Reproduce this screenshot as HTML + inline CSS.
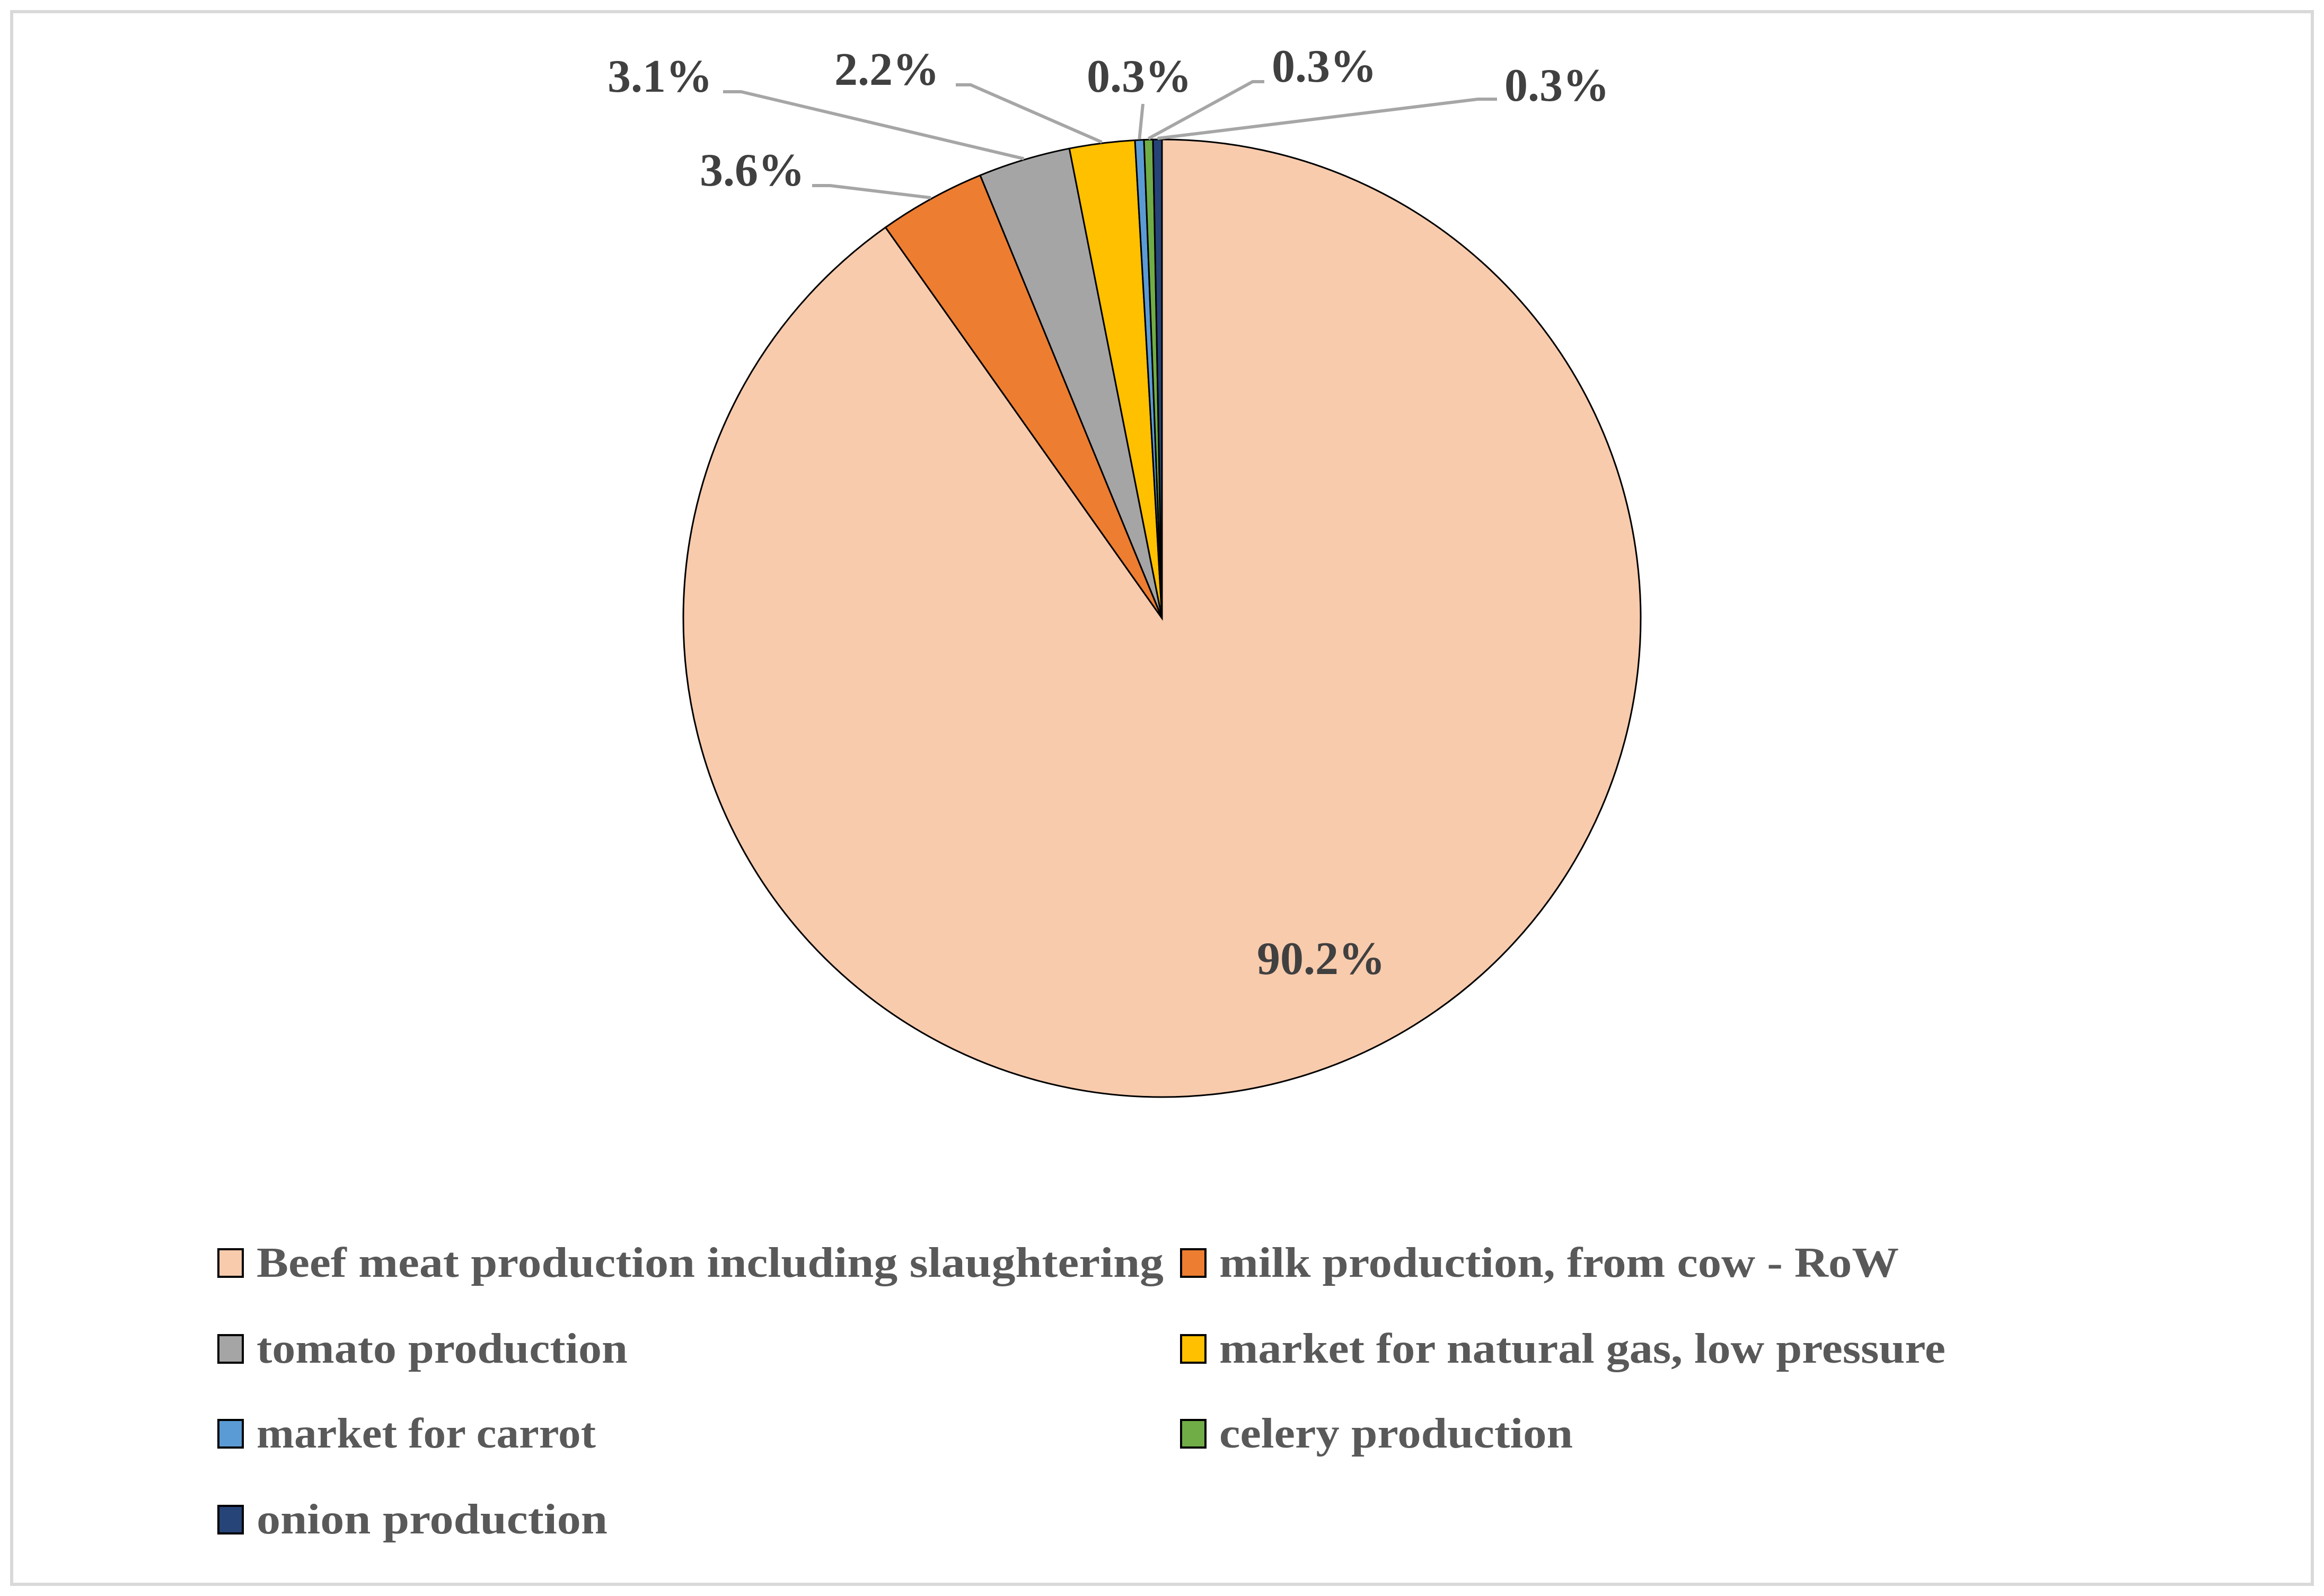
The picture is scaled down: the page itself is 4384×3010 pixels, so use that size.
<!DOCTYPE html>
<html><head><meta charset="utf-8"><style>
html,body{margin:0;padding:0;background:#fff;}
svg{display:block;}
text{font-family:"Liberation Serif",serif;font-weight:bold;}
</style></head><body>
<svg id="chart" width="4384" height="3010" viewBox="0 0 4384 3010" xmlns="http://www.w3.org/2000/svg">
<rect x="22" y="22" width="4340" height="2966" fill="#fff" stroke="#d9d9d9" stroke-width="6"/>
<g id="slices"></g>
<g id="leaders"></g>
<g id="labels"></g>
<g id="legend"></g>
</svg>
<script>
const categories = ["Beef meat production including slaughtering","milk production, from cow - RoW","tomato production","market for natural gas, low pressure","market for carrot","celery production","onion production"];
const values = [90.2,3.6,3.1,2.2,0.3,0.3,0.3];
const valueLabels = ["90.2%","3.6%","3.1%","2.2%","0.3%","0.3%","0.3%"];
const colors = ["#f8cbad","#ed7d31","#a5a5a5","#ffc000","#5b9bd5","#70ad47","#264478"];

const NS="http://www.w3.org/2000/svg";
const cx=2192, cy=1166, r=903;
const total=values.reduce((a,b)=>a+b,0);
function pt(a,rr){return [cx+rr*Math.sin(a), cy-rr*Math.cos(a)];}
function mk(tag,attrs,parent){const e=document.createElementNS(NS,tag);for(const k in attrs)e.setAttribute(k,attrs[k]);parent.appendChild(e);return e;}
const gS=document.getElementById('slices'), gL=document.getElementById('labels'), gD=document.getElementById('leaders'), gG=document.getElementById('legend');
let acc=0;
const mids=[];
values.forEach((v,i)=>{
  const a0=acc/total*2*Math.PI; acc+=v; const a1=acc/total*2*Math.PI;
  mids.push((a0+a1)/2);
  const p0=pt(a0,r), p1=pt(a1,r);
  const large=(a1-a0)>Math.PI?1:0;
  const p=mk('path',{d:`M${cx},${cy} L${p0[0]},${p0[1]} A${r},${r} 0 ${large} 1 ${p1[0]},${p1[1]} Z`,fill:colors[i],stroke:'#000','stroke-width':3},gS);
  
  
});
// label positions (layout, not data)
const labelPos=[[2371,1837,null],[1320,350,[1532,350,1566,350]],[1146,173,[1364,173,1398,173]],[1574,160,[1803,160,1831,160]],[2050,173,[2156,196,2156,196]],[2399,154,[2385,154,2363,154]],[2838,190,[2824,187,2788,187]]];
valueLabels.forEach((t,i)=>{
  const lp=labelPos[i];
  const tx=mk('text',{x:lp[0],y:lp[1],'font-size':88,fill:'#404040'},gL);
  tx.textContent=t;
  
  
  if(lp[2]){
    const e=pt(mids[i],r+2);
    const l=mk('polyline',{points:`${lp[2][0]},${lp[2][1]} ${lp[2][2]},${lp[2][3]} ${e[0]},${e[1]}`,fill:'none',stroke:'#a6a6a6','stroke-width':6},gD);
    
    
  }
});
const legPos=[[412,2382],[2228,2382],[412,2544],[2228,2544],[412,2704],[2228,2704],[412,2866]];
const legW=[1711,1282,700,1370,640,667,662];
categories.forEach((c,i)=>{
  const [x,y]=legPos[i];
  const g=mk('g',{},gG);
  
  
  const s=mk('rect',{x:x,y:y-26,width:46,height:52,fill:colors[i],stroke:'#000','stroke-width':4},g);
  
  
  const t=mk('text',{x:x+72,y:y+26,'font-size':80,fill:'#595959',textLength:legW[i],lengthAdjust:'spacingAndGlyphs'},g);
  t.textContent=c;
  
  
});
</script>
</body></html>
